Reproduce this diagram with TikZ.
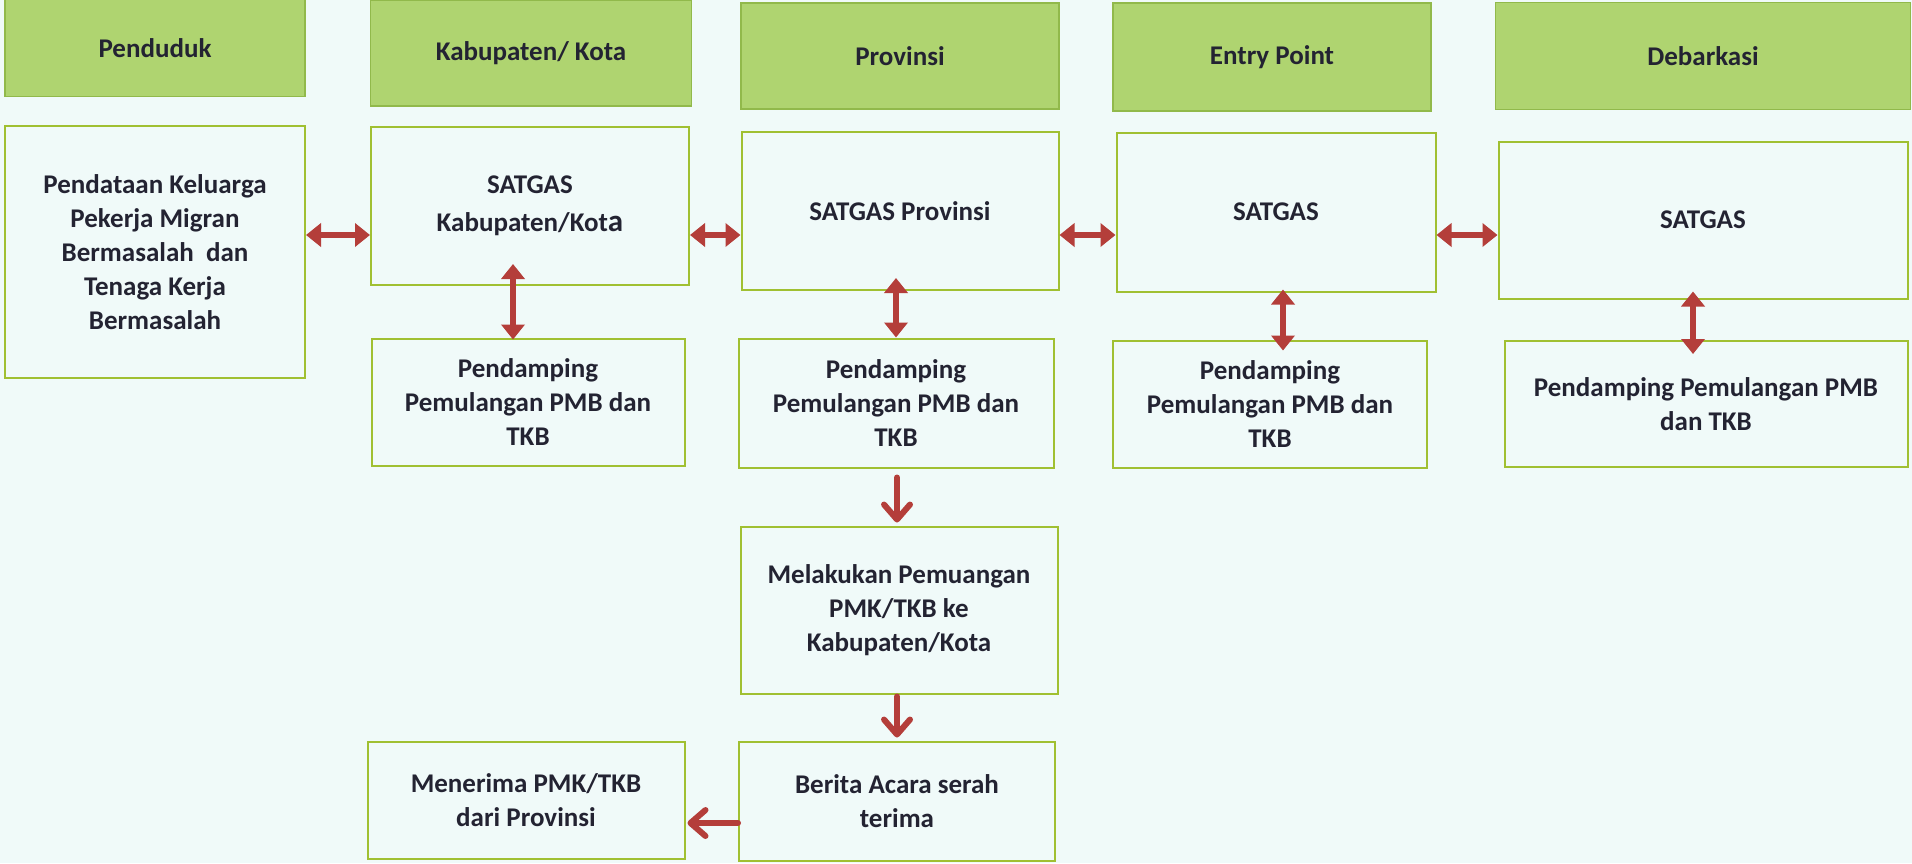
\documentclass[tikz,border=0pt]{standalone}
\usepackage{fontspec}
\setmainfont{Carlito}
\usetikzlibrary{arrows.meta, positioning}
\definecolor{bgCyan}{RGB}{240, 250, 249}
\definecolor{hdrGreen}{RGB}{175, 212, 112}
\definecolor{hdrEdge}{RGB}{145, 185, 75}
\definecolor{boxEdge}{RGB}{160, 192, 50}
\definecolor{txtDark}{RGB}{35, 35, 50}
\definecolor{arrRed}{RGB}{180, 62, 58}

\tikzset{
  hdr/.style={draw=hdrEdge, fill=hdrGreen, line width=1.2pt, inner sep=0pt,
              font=\bfseries\fontsize{27}{34}\selectfont, text=txtDark, align=center},
  box/.style={draw=boxEdge, fill=bgCyan, line width=2pt, inner sep=0pt,
              font=\bfseries\fontsize{27}{34}\selectfont, text=txtDark, align=center},
  dbl/.style={draw=arrRed, line width=6pt,
              {Triangle[length=15pt, width=23pt]}-{Triangle[length=15pt, width=23pt]}},
  fwd/.style={draw=arrRed, line width=6pt, line cap=round,
              -{Straight Barb[length=15pt, width=26pt, round]}}
}

\begin{document}
\begin{tikzpicture}[x=1pt, y=-1pt]
    \fill[bgCyan] (0,0) rectangle (1912,863);
    \useasboundingbox (0,0) rectangle (1912,863);

    % headers
    \node[hdr, minimum width=300pt, minimum height=97pt]  (hPend)  at (155,48)  {Penduduk};
    \node[hdr, minimum width=321pt, minimum height=106pt] (hKab)   at (531,53)  {Kabupaten/ Kota};
    \node[hdr, minimum width=318pt, minimum height=106pt] (hProv)  at (900,56)  {Provinsi};
    \node[hdr, minimum width=318pt, minimum height=108pt] (hEntry) at (1272,57) {Entry Point};
    \node[hdr, minimum width=415pt, minimum height=107pt] (hDeb)   at (1703,56) {Debarkasi};

    % satgas row
    \node[box, minimum width=300pt, minimum height=252pt] (pendataan) at (155,252)
      {Pendataan Keluarga\\Pekerja Migran\\Bermasalah\ \ dan\\Tenaga Kerja\\Bermasalah};
    \node[box, minimum width=318pt, minimum height=158pt] (satKab)   at (530,206)
      {SATGAS\\[4pt]Kabupaten/Kot{\fontsize{31}{34}\selectfont a}};
    \node[box, minimum width=317pt, minimum height=158pt] (satProv)  at (900,211)  {SATGAS Provinsi};
    \node[box, minimum width=319pt, minimum height=159pt] (satEntry) at (1276,212) {SATGAS};
    \node[box, minimum width=409pt, minimum height=157pt] (satDeb)   at (1703,220) {SATGAS};

    % pendamping row
    \node[box, minimum width=313pt, minimum height=127pt] (pdKab)   at (528,402)  {Pendamping\\Pemulangan PMB dan\\TKB};
    \node[box, minimum width=315pt, minimum height=129pt] (pdProv)  at (896,403)  {Pendamping\\Pemulangan PMB dan\\TKB};
    \node[box, minimum width=314pt, minimum height=127pt] (pdEntry) at (1270,404) {Pendamping\\Pemulangan PMB dan\\TKB};
    \node[box, minimum width=403pt, minimum height=126pt] (pdDeb)   at (1706,404) {Pendamping Pemulangan PMB\\dan TKB};

    % return flow
    \node[box, minimum width=317pt, minimum height=167pt] (pulang) at (899,610) {Melakukan Pemuangan\\PMK/TKB ke\\Kabupaten/Kota};
    \node[box, minimum width=316pt, minimum height=119pt] (berita) at (897,801) {Berita Acara serah\\terima};
    \node[box, minimum width=317pt, minimum height=117pt] (terima) at (526,800) {Menerima PMK/TKB\\dari Provinsi};

    % connectors
    \coordinate (lvl) at (0,235);
    \draw[dbl] (pendataan.east |- lvl) -- (satKab.west |- lvl);
    \draw[dbl] (satKab.east |- lvl) -- (satProv.west |- lvl);
    \draw[dbl] (satProv.east |- lvl) -- (satEntry.west |- lvl);
    \draw[dbl] (satEntry.east |- lvl) -- (satDeb.west |- lvl);

    \draw[dbl, shorten <=-22pt, shorten >=-2pt] ([xshift=-17pt]satKab.south) -- ([xshift=-15pt]pdKab.north);
    \draw[dbl, shorten <=-13pt] (satProv.south -| pdProv.north) -- (pdProv.north);
    \draw[dbl, shorten <=-3pt, shorten >=-11pt] ([xshift=7pt]satEntry.south) -- ([xshift=13pt]pdEntry.north);
    \draw[dbl, shorten <=-8pt, shorten >=-14pt] ([xshift=-10pt]satDeb.south) -- ([xshift=-13pt]pdDeb.north);

    \draw[fwd, shorten <=9pt, shorten >=3pt] ([xshift=1pt]pdProv.south) -- ([xshift=-2pt]pulang.north);
    \draw[fwd, shorten <=2pt, shorten >=3pt] ([xshift=-2pt]pulang.south) -- (berita.north);
    \draw[fwd, shorten <=0pt, shorten >=2pt] ([yshift=-22pt]berita.west) -- ([yshift=-23pt]terima.east);
\end{tikzpicture}
\end{document}
